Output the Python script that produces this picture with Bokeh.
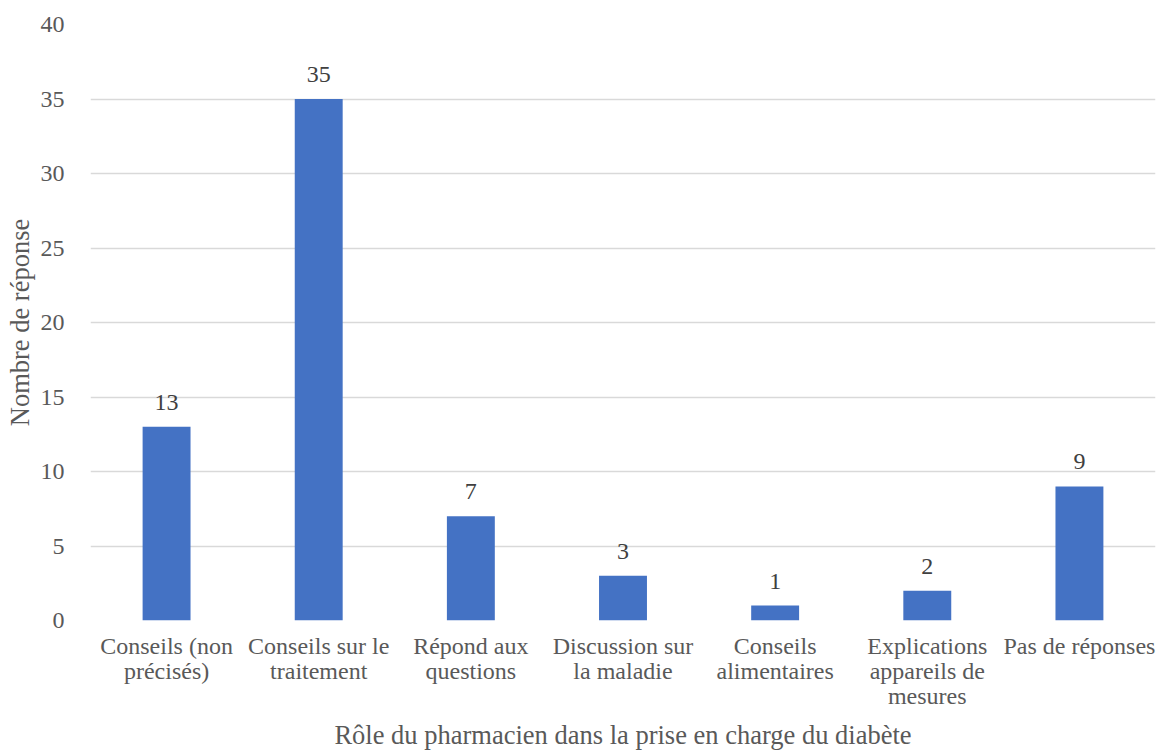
from bokeh.plotting import figure
from bokeh.models import ColumnDataSource, LabelSet, FixedTicker, CategoricalAxis, FactorRange
from bokeh.embed import file_html
from bokeh.resources import INLINE

categories = ["Conseils (non précisés)", "Conseils sur le traitement", "Répond aux questions",
              "Discussion sur la maladie", "Conseils alimentaires",
              "Explications appareils de mesures", "Pas de réponses"]
display_labels = ["Conseils (non\nprécisés)", "Conseils sur le\ntraitement", "Répond aux\nquestions",
                  "Discussion sur\nla maladie", "Conseils\nalimentaires",
                  "Explications\nappareils de\nmesures", "Pas de réponses"]
values = [13, 35, 7, 3, 1, 2, 9]
y_ticks = [0, 5, 10, 15, 20, 25, 30, 35, 40]

FONT = "Liberation Serif"
GREY = "#595959"
W, H = 1159, 752

src = ColumnDataSource(dict(cat=categories, val=values, lab=[str(v) for v in values]))

p = figure(x_range=categories, y_range=(0, 40), width=W, height=H,
           output_backend="svg", toolbar_location=None, x_axis_location=None,
           min_border_left=90, min_border_right=4, min_border_top=24, min_border_bottom=2)
p.outline_line_color = None
p.vbar(x="cat", top="val", width=0.315, source=src, color="#4472C4", line_color=None)

labels = LabelSet(x="cat", y="val", text="lab", source=src, text_align="center",
                  text_baseline="bottom", y_offset=17, text_font=FONT,
                  text_font_size="24px", text_color="#404040")
p.add_layout(labels)

p.yaxis.ticker = FixedTicker(ticks=y_ticks)
p.ygrid.grid_line_color = "#d9d9d9"
p.ygrid.grid_line_width = 1.5
p.xgrid.grid_line_color = None

def style(ax):
    ax.axis_line_color = None
    ax.major_tick_line_color = None
    ax.minor_tick_line_color = None
    ax.major_label_text_font = FONT
    ax.major_label_text_font_size = "24px"
    ax.major_label_text_color = GREY
    ax.axis_label_text_font = FONT
    ax.axis_label_text_font_size = "26.5px"
    ax.axis_label_text_color = GREY
    ax.axis_label_text_font_style = "normal"

# one categorical axis per text line of the multi-line category labels
split = [d.split("\n") for d in display_labels]
n_lines = max(len(s) for s in split)
x_axes = []
for i in range(n_lines):
    factors = []
    for j, s in enumerate(split):
        factors.append(s[i] if i < len(s) else " " * (j + 1))
    name = f"line{i}"
    p.extra_x_ranges[name] = FactorRange(factors=factors)
    ax = CategoricalAxis(x_range_name=name)
    p.add_layout(ax, "below")
    style(ax)
    ax.major_label_standoff = 6 if i == 0 else -10
    x_axes.append(ax)
x_axes[-1].axis_label = "Rôle du pharmacien dans la prise en charge du diabète"
x_axes[-1].axis_label_standoff = 8

style(p.yaxis[0])
p.yaxis.axis_label = "Nombre de réponse"
p.yaxis.major_label_standoff = 20
p.yaxis.axis_label_standoff = 3

open("out.html", "w").write(file_html(p, INLINE))
